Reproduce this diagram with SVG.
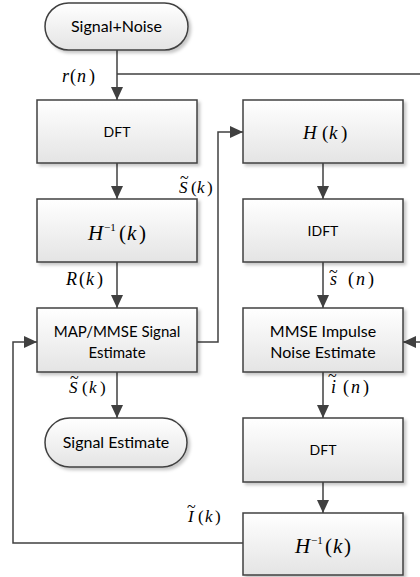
<svg xmlns="http://www.w3.org/2000/svg" width="420" height="577" viewBox="0 0 420 577">
<defs>
<linearGradient id="g" x1="0" y1="0" x2="0" y2="1">
<stop offset="0" stop-color="#ffffff"/>
<stop offset="1" stop-color="#e4e4e4"/>
</linearGradient>
<filter id="sh" x="-10%" y="-10%" width="125%" height="130%">
<feDropShadow dx="2.5" dy="2.5" stdDeviation="1.5" flood-color="#000" flood-opacity="0.22"/>
</filter>
<marker id="ar" markerUnits="userSpaceOnUse" markerWidth="13" markerHeight="12" refX="13" refY="6" orient="auto">
<path d="M0,0 L13,6 L0,12 z" fill="#404040"/>
</marker>
</defs>
<style>
.box{fill:url(#g);stroke:#404040;stroke-width:1.5;filter:url(#sh)}
.t{font-family:Lato,"Open Sans","Liberation Sans",sans-serif;fill:#000;text-anchor:middle}
.m{font-family:"Liberation Serif","Times New Roman",serif;fill:#000}
.i{font-style:italic}
.c{fill:none;stroke:#404040;stroke-width:1.5}
.tl{font-size:16px;font-style:normal}
</style>
<g id="connectors">
<path class="c" d="M117,50 V100" marker-end="url(#ar)"/>
<path class="c" d="M117,74 H423 V342 H403" marker-end="url(#ar)"/>
<path class="c" d="M117,163 V199" marker-end="url(#ar)"/>
<path class="c" d="M117,262 V308" marker-end="url(#ar)"/>
<path class="c" d="M117,372 V418" marker-end="url(#ar)"/>
<path class="c" d="M197,342 H218 V132 H243" marker-end="url(#ar)"/>
<path class="c" d="M323,163 V199" marker-end="url(#ar)"/>
<path class="c" d="M323,262 V308" marker-end="url(#ar)"/>
<path class="c" d="M323,372 V418" marker-end="url(#ar)"/>
<path class="c" d="M323,482 V513" marker-end="url(#ar)"/>
<path class="c" d="M243,543 H13 V342 H37" marker-end="url(#ar)"/>
</g>
<g id="labels">
<text class="m" font-size="18"><tspan class="i" x="62" y="82">r</tspan><tspan x="70" y="82">(</tspan><tspan class="i" x="77" y="82">n</tspan><tspan x="89" y="82">)</tspan></text>
<text class="m" font-size="17"><tspan class="i" x="179" y="193">S</tspan><tspan class="tl" x="180" y="183">~</tspan><tspan x="191" y="193">(</tspan><tspan class="i" x="197" y="193">k</tspan><tspan x="207" y="193">)</tspan></text>
<text class="m" font-size="18"><tspan class="i" x="66" y="285">R</tspan><tspan x="79" y="285">(</tspan><tspan class="i" x="86" y="285">k</tspan><tspan x="97" y="285">)</tspan></text>
<text class="m" font-size="17"><tspan class="i" x="69" y="393">S</tspan><tspan class="tl" x="70" y="383">~</tspan><tspan x="82" y="393">(</tspan><tspan class="i" x="89" y="393">k</tspan><tspan x="100" y="393">)</tspan></text>
<text class="m" font-size="18"><tspan class="i" x="330" y="285">s</tspan><tspan class="tl" x="329" y="277">~</tspan><tspan x="348" y="285">(</tspan><tspan class="i" x="356" y="285">n</tspan><tspan x="368" y="285">)</tspan></text>
<text class="m" font-size="18"><tspan class="i" x="331" y="393">i</tspan><tspan class="tl" x="328" y="381">~</tspan><tspan x="343" y="393">(</tspan><tspan class="i" x="351" y="393">n</tspan><tspan x="363" y="393">)</tspan></text>
<text class="m" font-size="17"><tspan class="i" x="188" y="522">I</tspan><tspan class="tl" x="187" y="512">~</tspan><tspan x="198" y="522">(</tspan><tspan class="i" x="205" y="522">k</tspan><tspan x="215" y="522">)</tspan></text>
</g>
<g id="signal-noise">
<rect class="box" x="45" y="3" width="143" height="47" rx="23.5"/>
<text class="t" x="116.5" y="32" font-size="16">Signal+Noise</text>
</g>
<g id="dft1">
<rect class="box" x="37" y="100" width="160" height="63"/>
<text class="t" x="117" y="137" font-size="14">DFT</text>
</g>
<g id="hinv1">
<rect class="box" x="37" y="199" width="160" height="63"/>
<text class="m" font-size="21"><tspan class="i" x="88" y="240">H</tspan><tspan font-size="11" x="104" y="231">−1</tspan><tspan x="119" y="240">(</tspan><tspan class="i" x="127" y="240">k</tspan><tspan x="139" y="240">)</tspan></text>
</g>
<g id="map">
<rect class="box" x="37" y="308" width="160" height="64"/>
<text class="t" x="117" y="337" font-size="15">MAP/MMSE Signal</text>
<text class="t" x="117" y="358" font-size="15">Estimate</text>
</g>
<g id="signal-estimate">
<rect class="box" x="45" y="418" width="142" height="49" rx="24.5"/>
<text class="t" x="116" y="448" font-size="16">Signal Estimate</text>
</g>
<g id="hk">
<rect class="box" x="243" y="100" width="160" height="63"/>
<text class="m" font-size="19"><tspan class="i" x="303" y="139">H</tspan><tspan x="322" y="139">(</tspan><tspan class="i" x="329" y="139">k</tspan><tspan x="341" y="139">)</tspan></text>
</g>
<g id="idft">
<rect class="box" x="243" y="199" width="160" height="63"/>
<text class="t" x="323" y="236" font-size="14">IDFT</text>
</g>
<g id="mmse">
<rect class="box" x="243" y="308" width="160" height="64"/>
<text class="t" x="323" y="337" font-size="16">MMSE Impulse</text>
<text class="t" x="323" y="358" font-size="16">Noise Estimate</text>
</g>
<g id="dft2">
<rect class="box" x="243" y="418" width="160" height="64"/>
<text class="t" x="323" y="455" font-size="14">DFT</text>
</g>
<g id="hinv2">
<rect class="box" x="243" y="513" width="160" height="62"/>
<text class="m" font-size="21"><tspan class="i" x="295" y="553">H</tspan><tspan font-size="11" x="311" y="544">−1</tspan><tspan x="325" y="553">(</tspan><tspan class="i" x="333" y="553">k</tspan><tspan x="344" y="553">)</tspan></text>
</g>
</svg>
